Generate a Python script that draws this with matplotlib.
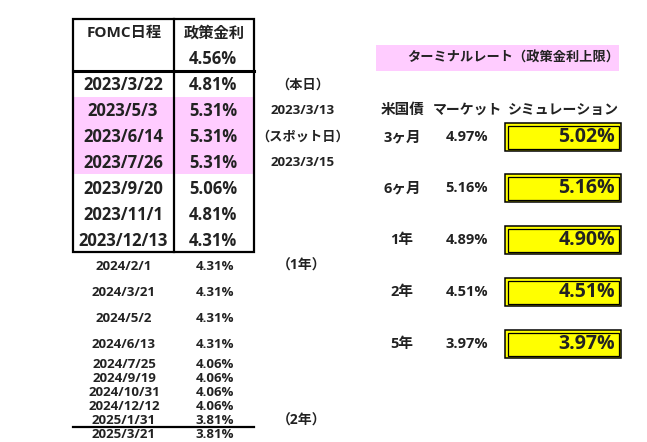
import matplotlib.pyplot as plt
from matplotlib.patches import Rectangle

plt.rcParams['font.family'] = ['Open Sans', 'Noto Sans CJK JP']

# FOMC schedule and implied policy rate
fomc_dates = ['2023/3/22', '2023/5/3', '2023/6/14', '2023/7/26', '2023/9/20',
              '2023/11/1', '2023/12/13']
fomc_rates = [4.81, 5.31, 5.31, 5.31, 5.06, 4.81, 4.31]
later_dates = ['2024/2/1', '2024/3/21', '2024/5/2', '2024/6/13', '2024/7/25',
               '2024/9/19', '2024/10/31', '2024/12/12', '2025/1/31', '2025/3/21']
later_rates = [4.31, 4.31, 4.31, 4.31, 4.06, 4.06, 4.06, 4.06, 3.81, 3.81]
current_rate = 4.56
side_notes = ['（本日）', '2023/3/13', '（スポット日）', '2023/3/15']

# treasury yields: market vs simulation
tenors = ['3ヶ月', '6ヶ月', '1年', '2年', '5年']
market = [4.97, 5.16, 4.89, 4.51, 3.97]
simulation = [5.02, 5.16, 4.90, 4.51, 3.97]

fig = plt.figure(figsize=(6.47, 4.42), dpi=100)
ax = fig.add_axes([0, 0, 1, 1])
ax.set_xlim(0, 647)
ax.set_ylim(442, 0)
ax.axis('off')

pink = '#FFCCFF'
bold = dict(fontweight='bold', ha='center', va='center', color='#222222')

# main table
ax.add_patch(Rectangle((73, 97), 181, 77, color=pink, lw=0))
ax.add_patch(Rectangle((73, 19), 181, 233, fill=False, ec='black', lw=1.6))
ax.plot([174, 174], [19, 252], color='black', lw=1.6)
ax.plot([73, 254], [71, 71], color='black', lw=2.2)
ax.text(124, 33, 'FOMC日程', fontsize=11, **bold)
ax.text(214, 33, '政策金利', fontsize=11, **bold)
ax.text(213, 59, f'{current_rate:.2f}%', fontsize=12, **bold)

for i, (d, r) in enumerate(zip(fomc_dates, fomc_rates)):
    y = 85 + 26 * i
    ax.text(123, y, d, fontsize=12, **bold)
    ax.text(213, y, f'{r:.2f}%', fontsize=12, **bold)

for i, s in enumerate(side_notes):
    ax.text(303, 85 + 26 * i, s, fontsize=9.5, **bold)

later_y = [266, 292, 318, 344, 364, 378, 392, 406, 421, 435]
for y, d, r in zip(later_y, later_dates, later_rates):
    ax.text(124, y, d, fontsize=9.5, **bold)
    ax.text(215, y, f'{r:.2f}%', fontsize=9.5, **bold)
ax.plot([73, 254], [427, 427], color='black', lw=1.6)
ax.text(302, 266, '（1年）', fontsize=10, **bold)
ax.text(302, 421, '（2年）', fontsize=10, **bold)

# terminal rate panel
ax.add_patch(Rectangle((376, 45), 243, 26, color=pink, lw=0))
ax.text(513, 58, 'ターミナルレート（政策金利上限）', fontsize=9.5, **bold)
ax.text(403, 110, '米国債', fontsize=10.5, **bold)
ax.text(467, 110, 'マーケット', fontsize=10, **bold)
ax.text(563, 110, 'シミュレーション', fontsize=10, **bold)

row_y = [137, 188, 240, 292, 344]
for y, t, m, s in zip(row_y, tenors, market, simulation):
    ax.text(402, y, t, fontsize=10.5, **bold)
    ax.text(467, y, f'{m:.2f}%', fontsize=10.5, **bold)
    ax.add_patch(Rectangle((505, y - 14), 116, 28, fc='#FFFF00', ec='black', lw=1.1))
    ax.add_patch(Rectangle((507.5, y - 11.5), 111, 23, fill=False, ec='black', lw=0.9))
    ax.text(615, y, f'{s:.2f}%', fontsize=14, fontweight='bold',
            ha='right', va='center', color='#222222')

fig.savefig('out.png', dpi=100)
